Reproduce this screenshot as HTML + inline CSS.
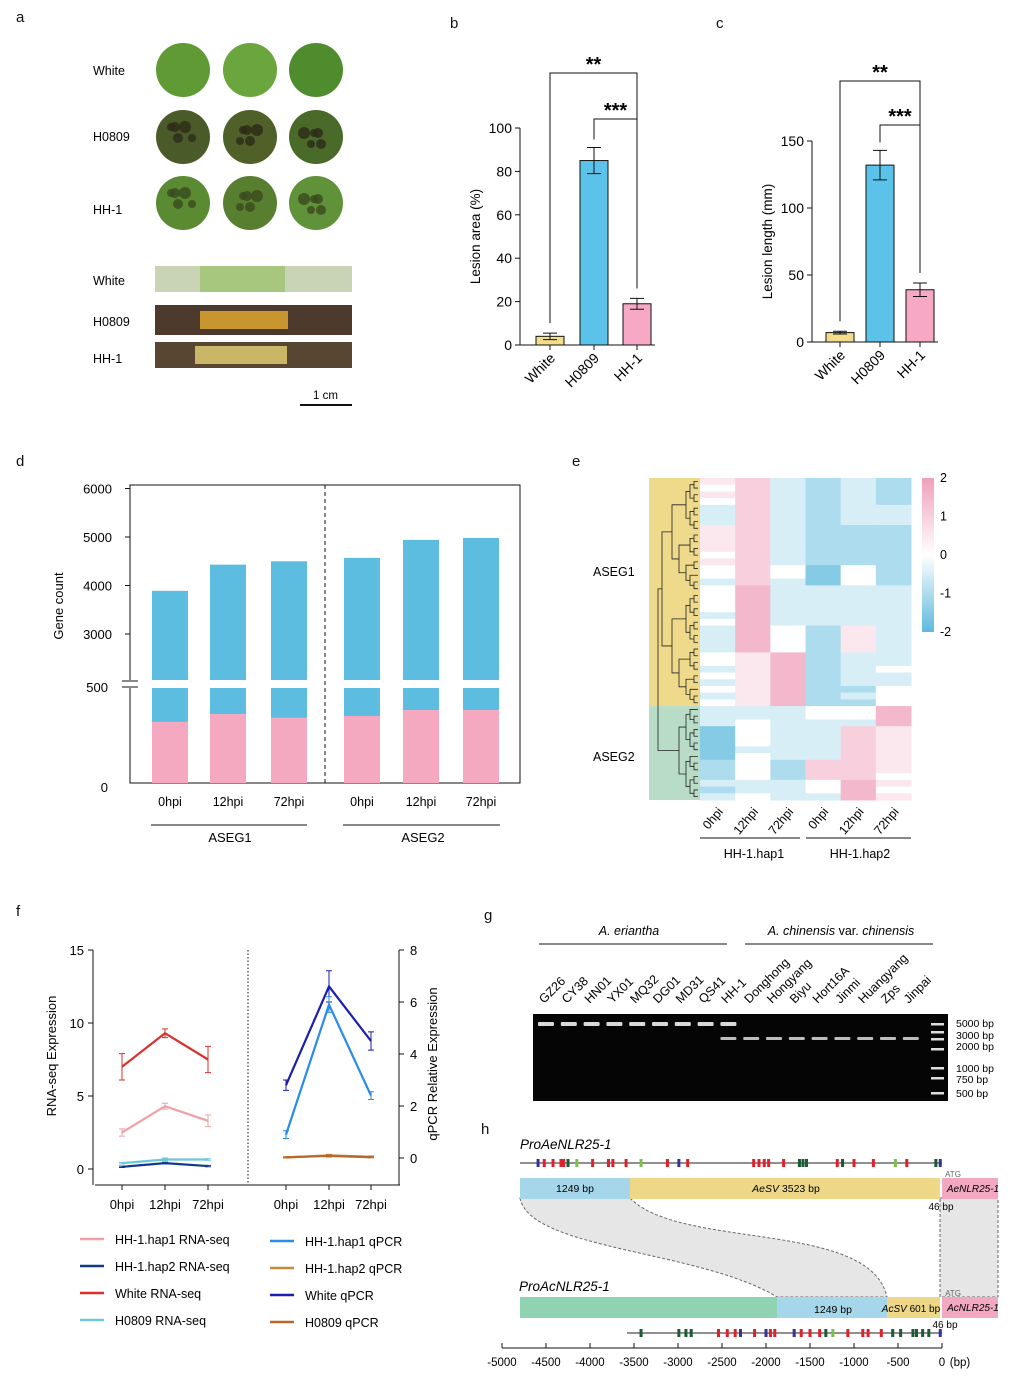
<!DOCTYPE html>
<html><head><meta charset="utf-8"><style>
body{margin:0;background:#fff}
svg{display:block;font-family:"Liberation Sans",Arial,sans-serif}
</style></head><body>
<svg id="fig" width="1020" height="1384" viewBox="0 0 1020 1384" xmlns="http://www.w3.org/2000/svg">
<g font-size="15" fill="#111">
<text x="16" y="22">a</text><text x="450" y="28">b</text><text x="716" y="28">c</text>
<text x="16" y="466">d</text><text x="572" y="466">e</text><text x="16" y="916">f</text>
<text x="484" y="920">g</text><text x="481" y="1134">h</text>
</g>
<g id="pa" font-size="12.5">
<text x="93" y="75">White</text><text x="93" y="141">H0809</text><text x="93" y="214">HH-1</text>
<text x="93" y="285">White</text><text x="93" y="326">H0809</text><text x="93" y="363">HH-1</text>
<rect x="155" y="266" width="197" height="26" fill="#c9d3b5"/>
<rect x="200" y="266" width="85" height="26" fill="#a7c77f"/>
<rect x="155" y="305" width="197" height="30" fill="#4e3a2c"/>
<rect x="200" y="311" width="88" height="18" fill="#c8962e"/>
<rect x="155" y="342" width="197" height="26" fill="#584532"/>
<rect x="195" y="346" width="92" height="18" fill="#c9b767"/>
<line x1="300" y1="405" x2="352" y2="405" stroke="#111" stroke-width="2"/>
<text x="313" y="399" font-size="11.5">1 cm</text>
</g>
<g id="pb"></g>
<g id="pc"></g>
<g id="pd"></g>
<g id="pe"></g>
<g id="pf"></g>
<g id="pg"></g>
<g id="ph"></g>
</svg>
<script>
const NS="http://www.w3.org/2000/svg";
function el(p,t,a,txt){const e=document.createElementNS(NS,t);for(const k in a)e.setAttribute(k,a[k]);if(txt!==undefined)e.textContent=txt;p.appendChild(e);return e;}
const $=id=>document.getElementById(id);

const leafCols=["#5f9a35","#6ba53d","#4f8c2e","#4a5a28","#4f6028","#4a6a2a","#5a8a32","#587f30","#60923a"];
const pa=$('pa');
[70,137,203].forEach((cy,r)=>[183,250,316].forEach((cx,c)=>{
 const e=el(pa,'circle',{cx,cy,r:27,fill:leafCols[r*3+c]});
 
 
 if(r>0){for(let k=0;k<5;k++)el(pa,'circle',{cx:cx-12+((k*7+c*5)%24),cy:cy-10+((k*11+c*3)%22),r:4+(k%3),fill:r==1?"#2c2a18":"#3b4a1e",opacity:.8});}
}));

const barCats=["White","H0809","HH-1"];
const areaVals=[4,85,19], areaErr=[1.5,6,2.5];
const lenVals=[7,132,39], lenErr=[1,11,5];
const barColors=["#f3dd8b","#5bc3ea","#f7a8c4"];
function barPanel(g,ax,y0,yTop,max,ticks,vals,errs,xs,ylab,sig){
 const y=v=>y0-(v/max)*(y0-yTop);
 el(g,'line',{x1:ax,y1:y(max),x2:ax,y2:y0,stroke:"#111"});
 el(g,'line',{x1:ax,y1:y0,x2:xs[2]+18,y2:y0,stroke:"#111"});
 ticks.forEach(t=>{el(g,'line',{x1:ax-5,y1:y(t),x2:ax,y2:y(t),stroke:"#111"});el(g,'text',{x:ax-8,y:y(t)+5,'text-anchor':'end','font-size':14},t);});
 vals.forEach((v,i)=>{
  const b=el(g,'rect',{x:xs[i]-14,y:y(v),width:28,height:y0-y(v),fill:barColors[i],stroke:"#111"});
  
  
  const e1=y(v+errs[i]),e2=y(v-errs[i]);
  el(g,'path',{d:`M${xs[i]} ${e1}V${e2}M${xs[i]-7} ${e1}H${xs[i]+7}M${xs[i]-7} ${e2}H${xs[i]+7}`,stroke:"#111",fill:"none"});
  el(g,'line',{x1:xs[i],y1:y0,x2:xs[i],y2:y0+5,stroke:"#111"});
  el(g,'text',{x:xs[i]+6,y:y0+14,'text-anchor':'end','font-size':14,transform:`rotate(-45 ${xs[i]+6} ${y0+14})`},barCats[i]);
 });
 el(g,'text',{x:ax-40,y:(y0+yTop)/2,'text-anchor':'middle','font-size':13.5,transform:`rotate(-90 ${ax-40} ${(y0+yTop)/2})`},ylab);
 const [a,b2]=sig;
 el(g,'path',{d:`M${xs[0]} ${y(vals[0]+errs[0])-10}V${a}H${xs[2]}V${y(vals[2]+errs[2])-10}`,stroke:"#111",fill:"none"});
 el(g,'path',{d:`M${xs[1]} ${y(vals[1]+errs[1])-8}V${b2}H${xs[2]}V${y(vals[2]+errs[2])-10}`,stroke:"#111",fill:"none"});
 el(g,'text',{x:(xs[0]+xs[2])/2,y:a-2,'text-anchor':'middle','font-size':20,'font-weight':'bold'},"**");
 el(g,'text',{x:(xs[1]+xs[2])/2,y:b2-2,'text-anchor':'middle','font-size':20,'font-weight':'bold'},"***");
}
barPanel($('pb'),520,345,128,100,[0,20,40,60,80,100],areaVals,areaErr,[550,594,637],"Lesion area (%)",[73,119]);
barPanel($('pc'),812,342,141,150,[0,50,100,150],lenVals,lenErr,[840,880,920],"Lesion length (mm)",[81,125]);

const dCats=["0hpi","12hpi","72hpi","0hpi","12hpi","72hpi"];
const dPink=[318,359,339,349,380,380];
const dTotal=[3890,4430,4500,4570,4940,4980];
const dUpperTicks=[3000,4000,5000,6000];
const pd=$('pd');
const yLow=v=>783-v*0.192, yUp=v=>634-(v-3000)*0.0485;
const dx=[170,228,289,362,421,481];
el(pd,'rect',{x:130,y:485,width:390,height:298,fill:"none",stroke:"#111"});
el(pd,'line',{x1:325,y1:485,x2:325,y2:783,stroke:"#111","stroke-dasharray":"4 3"});
dCats.forEach((c,i)=>{
 const x=dx[i]-18;
 const b1=el(pd,'rect',{x,y:yUp(dTotal[i]),width:36,height:680-yUp(dTotal[i]),fill:"#5dbde0"});
 
 
 el(pd,'rect',{x,y:688,width:36,height:yLow(dPink[i])-688,fill:"#5dbde0"});
 const b2=el(pd,'rect',{x,y:yLow(dPink[i]),width:36,height:783-yLow(dPink[i]),fill:"#f4a9c0"});
 
 
 el(pd,'text',{x:dx[i],y:806,'text-anchor':'middle','font-size':12.5},c);
});
el(pd,'rect',{x:118,y:680,width:20,height:8,fill:"#fff"});
el(pd,'path',{d:"M122 681H138M122 687H138",stroke:"#111"});
dUpperTicks.forEach(t=>{el(pd,'line',{x1:125,y1:yUp(t),x2:130,y2:yUp(t),stroke:"#111"});el(pd,'text',{x:112,y:yUp(t)+5,'text-anchor':'end','font-size':13},t);});
[[500,687],[0,787]].forEach(([t,y])=>el(pd,'text',{x:108,y:y+5,'text-anchor':'end','font-size':13},t));
el(pd,'text',{x:63,y:606,'text-anchor':'middle','font-size':13,transform:"rotate(-90 63 606)"},"Gene count");
el(pd,'line',{x1:151,y1:825,x2:307,y2:825,stroke:"#111"});el(pd,'line',{x1:343,y1:825,x2:500,y2:825,stroke:"#111"});
el(pd,'text',{x:230,y:842,'text-anchor':'middle','font-size':13},"ASEG1");el(pd,'text',{x:423,y:842,'text-anchor':'middle','font-size':13},"ASEG2");

const heatRows=["563232","463232","563232","463232","363233","363233","363233","563222","563222","563222","563222","463222","563222","464142","464142","363142","473333","473333","473333","473333","373333","473333","374253","374253","374253","374253","457233","457233","357234","457233","357233","457224","357234","457224",
"333447","333447","343337","143365","143365","143365","133365","143365","242665","242665","242664","333475","233474","343375"];
const heatCols=["0hpi","12hpi","72hpi","0hpi","12hpi","72hpi"];
const colorbarTicks=[2,1,0,-1,-2];
const pe=$('pe');
function hcol(v){const t=(v-4)/4;const neg=[93,185,222],pos=[240,160,187];const c=t<0?neg:pos;const a=Math.abs(t);return `rgb(${c.map(k=>Math.round(255+(k-255)*a)).join(',')})`;}
const hy0=478,hy1=800,rh=(hy1-hy0)/heatRows.length,cw=(911-700)/6;
el(pe,'rect',{x:649,y:hy0,width:51,height:34*rh,fill:"#efd98a"});
el(pe,'rect',{x:649,y:hy0+34*rh,width:51,height:14*rh,fill:"#b9dcc6"});
heatRows.forEach((r,i)=>r.split('').forEach((d,j)=>{
 const c=el(pe,'rect',{x:700+j*cw,y:hy0+i*rh,width:cw+.5,height:rh+.5,fill:hcol(+d)});
 
 
}));
function dend(a,b){if(b-a<=1){return {x:698,y:hy0+(a+.5)*rh};}
 const m=Math.floor((a+b)/2);const L=dend(a,m),R=dend(m,b);const x=Math.min(L.x,R.x)-(b-a>20?10:b-a>8?7:4);
 el(pe,'path',{d:`M${L.x} ${L.y}H${x}V${R.y}H${R.x}`,stroke:"#222",fill:"none","stroke-width":.8});return {x,y:(L.y+R.y)/2};}
const d1=dend(0,34),d2=dend(34,48);
el(pe,'path',{d:`M${d1.x} ${d1.y}H${Math.min(d1.x,d2.x)-4}V${d2.y}H${d2.x}`,stroke:"#222",fill:"none","stroke-width":.8});
el(pe,'text',{x:593,y:576,'font-size':12.5},"ASEG1");el(pe,'text',{x:593,y:761,'font-size':12.5},"ASEG2");
const gr=el(pe,'defs',{});const lg=el(gr,'linearGradient',{id:'cb',x1:0,y1:0,x2:0,y2:1});
el(lg,'stop',{offset:0,'stop-color':hcol(8)});el(lg,'stop',{offset:.5,'stop-color':'#fff'});el(lg,'stop',{offset:1,'stop-color':hcol(0)});
el(pe,'rect',{x:922,y:478,width:12,height:154,fill:"url(#cb)"});
colorbarTicks.forEach((t,i)=>el(pe,'text',{x:940,y:482+i*38.5,'font-size':12.5},t));
heatCols.forEach((c,i)=>{const x=700+(i+.5)*cw+6,y=812;el(pe,'text',{x,y,'text-anchor':'end','font-size':12.5,transform:`rotate(-50 ${x} ${y})`},c);});
el(pe,'line',{x1:700,y1:838,x2:800,y2:838,stroke:"#111"});el(pe,'line',{x1:806,y1:838,x2:911,y2:838,stroke:"#111"});
el(pe,'text',{x:754,y:858,'text-anchor':'middle','font-size':12.5},"HH-1.hap1");el(pe,'text',{x:860,y:858,'text-anchor':'middle','font-size':12.5},"HH-1.hap2");

const fTimes=["0hpi","12hpi","72hpi"];
const rnaWhite=[7,9.3,7.5], rnaWhiteErr=[0.9,0.3,0.9];
const rnaHap1=[2.5,4.3,3.3], rnaHap1Err=[0.25,0.2,0.4];
const rnaH0809=[0.4,0.65,0.65], rnaH0809Err=[0.05,0.1,0.05];
const rnaHap2=[0.15,0.4,0.2], rnaHap2Err=[0.05,0.05,0.05];
const qWhite=[2.8,6.6,4.5], qWhiteErr=[0.2,0.6,0.35];
const qHap1=[0.9,5.9,2.4], qHap1Err=[0.15,0.3,0.15];
const qHap2=[0.02,0.1,0.05], qHap2Err=[0.02,0.04,0.03];
const qH0809=[0.03,0.08,0.03], qH0809Err=[0.02,0.04,0.02];
const pf=$('pf');
const yR=v=>1169-v*14.6, yQ=v=>1158-v*26;
const xL=[122,165,208], xRt=[286,329,371];
el(pf,'line',{x1:93,y1:950,x2:93,y2:1185,stroke:"#111"});
el(pf,'line',{x1:399,y1:950,x2:399,y2:1185,stroke:"#111"});
el(pf,'line',{x1:95,y1:1185,x2:400,y2:1185,stroke:"#111"});
el(pf,'line',{x1:248,y1:950,x2:248,y2:1185,stroke:"#111","stroke-dasharray":"1.5 2"});
[0,5,10,15].forEach(t=>{el(pf,'line',{x1:88,y1:yR(t),x2:93,y2:yR(t),stroke:"#111"});el(pf,'text',{x:84,y:yR(t)+5,'text-anchor':'end','font-size':13},t);});
[0,2,4,6,8].forEach(t=>{el(pf,'line',{x1:399,y1:yQ(t),x2:404,y2:yQ(t),stroke:"#111"});el(pf,'text',{x:410,y:yQ(t)+5,'font-size':13},t);});
xL.concat(xRt).forEach((x,i)=>{el(pf,'line',{x1:x,y1:1185,x2:x,y2:1190,stroke:"#111"});el(pf,'text',{x,y:1209,'text-anchor':'middle','font-size':13},fTimes[i%3]);});
el(pf,'text',{x:56,y:1056,'text-anchor':'middle','font-size':13,transform:"rotate(-90 56 1056)"},"RNA-seq Expression");
el(pf,'text',{x:437,y:1064,'text-anchor':'middle','font-size':13,transform:"rotate(-90 437 1064)"},"qPCR Relative Expression");
function series(xs,vals,errs,yf,col,name){
 const p=el(pf,'polyline',{points:vals.map((v,i)=>xs[i]+','+yf(v)).join(' '),fill:'none',stroke:col,'stroke-width':2.2});
 
 
 vals.forEach((v,i)=>{const a=yf(v+errs[i]),b=yf(v-errs[i]);el(pf,'path',{d:`M${xs[i]} ${a}V${b}M${xs[i]-3} ${a}H${xs[i]+3}M${xs[i]-3} ${b}H${xs[i]+3}`,stroke:col,fill:'none'});});
}
series(xL,rnaWhite,rnaWhiteErr,yR,"#d9302c","line-white-rnaseq");
series(xL,rnaHap1,rnaHap1Err,yR,"#f0a0a6","line-hap1-rnaseq");
series(xL,rnaH0809,rnaH0809Err,yR,"#6cc8d8","line-h0809-rnaseq");
series(xL,rnaHap2,rnaHap2Err,yR,"#123a8a","line-hap2-rnaseq");
series(xRt,qWhite,qWhiteErr,yQ,"#1a1fb0","line-white-qpcr");
series(xRt,qHap1,qHap1Err,yQ,"#2a8be8","line-hap1-qpcr");
series(xRt,qHap2,qHap2Err,yQ,"#c8893a","line-hap2-qpcr");
series(xRt,qH0809,qH0809Err,yQ,"#b8692a","line-h0809-qpcr");
const legendItems=[["HH-1.hap1 RNA-seq","#f0a0a6",80,1243],["HH-1.hap2 RNA-seq","#123a8a",80,1270],["White RNA-seq","#d9302c",80,1297],["H0809 RNA-seq","#6cc8d8",80,1324],
["HH-1.hap1 qPCR","#2a8be8",270,1245],["HH-1.hap2 qPCR","#c8893a",270,1272],["White qPCR","#1a1fb0",270,1299],["H0809 qPCR","#b8692a",270,1326]];
legendItems.forEach(([t,c,x,y])=>{const g=el(pf,'g',{});
 el(g,'line',{x1:x,y1:y-4,x2:x+24,y2:y-4,stroke:c,'stroke-width':2.5});el(g,'text',{x:x+35,y:y+1,'font-size':12.5},t);});

const gLanes=["GZ26","CY38","HN01","YX01","MQ32","DG01","MD31","QS41","HH-1","Donghong","Hongyang","Biyu","Hort16A","Jinmi","Huangyang","Zps","Jinpai"];
const gUpper=[1,1,1,1,1,1,1,1,1,0,0,0,0,0,0,0,0];
const gLower=[0,0,0,0,0,0,0,0,1,1,1,1,1,1,1,1,1];
const pg=$('pg');
el(pg,'rect',{x:533,y:1014,width:415,height:87,fill:"#050505"});
el(pg,'text',{x:629,y:935,'text-anchor':'middle','font-size':12.5,'font-style':'italic'},"A. eriantha");
el(pg,'text',{x:841,y:935,'text-anchor':'middle','font-size':12.5},"").innerHTML='<tspan font-style="italic">A. chinensis</tspan> var. <tspan font-style="italic">chinensis</tspan>';
el(pg,'line',{x1:539,y1:944,x2:727,y2:944,stroke:"#111"});el(pg,'line',{x1:745,y1:944,x2:933,y2:944,stroke:"#111"});
gLanes.forEach((n,i)=>{const x=546+i*22.8;
 el(pg,'text',{x:x-2,y:1004,'font-size':12.5,transform:`rotate(-45 ${x-2} 1004)`},n);
 if(gUpper[i]){const b=el(pg,'rect',{x:x-8,y:1022,width:16,height:4,fill:"#d8d8d8",rx:1});}
 if(gLower[i]){const b=el(pg,'rect',{x:x-8,y:1037,width:16,height:3,fill:"#bdbdbd",rx:1});}
});
[1024,1032,1039,1049,1068,1078,1093].forEach(y=>el(pg,'rect',{x:931,y:y-1,width:13,height:2.5,fill:"#ddd"}));
[["5000 bp",1027],["3000 bp",1039],["2000 bp",1050],["1000 bp",1072],["750 bp",1083],["500 bp",1097]].forEach(([t,y])=>el(pg,'text',{x:956,y,'font-size':10.5},t));

const ph=$('ph');
const hAxisTicks=[-5000,-4500,-4000,-3500,-3000,-2500,-2000,-1500,-1000,-500,0];
const xb=v=>942+v*0.088;
el(ph,'line',{x1:xb(-5000),y1:1348,x2:942,y2:1348,stroke:"#111"});
hAxisTicks.forEach(t=>{el(ph,'line',{x1:xb(t),y1:1348,x2:xb(t),y2:1343,stroke:"#111"});el(ph,'text',{x:xb(t),y:1366,'text-anchor':'middle','font-size':11.5},t);});
el(ph,'text',{x:960,y:1366,'text-anchor':'middle','font-size':11.5},"(bp)");
el(ph,'path',{d:"M520 1198 L630 1198 C 680 1250, 870 1220, 887 1297 L777 1297 C 700 1250, 530 1250, 520 1198Z",fill:"#e6e6e6",stroke:"#666","stroke-dasharray":"3 2"});
el(ph,'rect',{x:940,y:1198,width:58,height:99,fill:"#e6e6e6",stroke:"#666","stroke-dasharray":"3 2"});
[[520,110,"#a6d6ea"],[630,310,"#eed887"],[942,56,"#f2a8c0"]].forEach(([x,w,c])=>el(ph,'rect',{x,y:1178,width:w,height:21,fill:c}));
[[520,257,"#8fd3b3"],[777,110,"#a6d6ea"],[887,53,"#eed887"],[942,56,"#f2a8c0"]].forEach(([x,w,c])=>el(ph,'rect',{x,y:1297,width:w,height:21,fill:c}));
el(ph,'text',{x:520,y:1149,'font-size':13.5,'font-style':'italic'},"ProAeNLR25-1");
el(ph,'text',{x:519,y:1291,'font-size':13.5,'font-style':'italic'},"ProAcNLR25-1");
el(ph,'text',{x:575,y:1192,'text-anchor':'middle','font-size':10.5},"1249 bp");
el(ph,'text',{x:786,y:1192,'text-anchor':'middle','font-size':10.5},"").innerHTML='<tspan font-style="italic">AeSV</tspan> 3523 bp';
el(ph,'text',{x:973,y:1192,'text-anchor':'middle','font-size':10,'font-style':'italic'},"AeNLR25-1");
el(ph,'text',{x:833,y:1313,'text-anchor':'middle','font-size':10.5},"1249 bp");
el(ph,'text',{x:911,y:1312,'text-anchor':'middle','font-size':10},"").innerHTML='<tspan font-style="italic">AcSV</tspan> 601 bp';
el(ph,'text',{x:973,y:1311,'text-anchor':'middle','font-size':10,'font-style':'italic'},"AcNLR25-1");
el(ph,'text',{x:941,y:1210,'text-anchor':'middle','font-size':10},"46 bp");el(ph,'text',{x:945,y:1328,'text-anchor':'middle','font-size':10},"46 bp");
el(ph,'text',{x:953,y:1177,'text-anchor':'middle','font-size':8,fill:'#666'},"ATG");el(ph,'text',{x:953,y:1296,'text-anchor':'middle','font-size':8,fill:'#666'},"ATG");
el(ph,'line',{x1:520,y1:1163,x2:942,y2:1163,stroke:"#222"});el(ph,'line',{x1:627,y1:1333,x2:942,y2:1333,stroke:"#222"});
const topMarks=[[-4590,'b'],[-4520,'r'],[-4420,'r'],[-4330,'r'],[-4300,'r'],[-4250,'g'],[-4150,'l'],[-3970,'r'],[-3790,'r'],[-3740,'r'],[-3590,'r'],[-3420,'l'],[-3120,'r'],[-2990,'b'],[-2890,'r'],[-2140,'r'],[-2080,'r'],[-2020,'r'],[-1970,'r'],[-1800,'r'],[-1620,'g'],[-1580,'g'],[-1540,'g'],[-1190,'r'],[-1130,'g'],[-1000,'r'],[-780,'r'],[-530,'l'],[-400,'r'],[-70,'g'],[-20,'b']];
const botMarks=[[-3420,'g'],[-2990,'g'],[-2910,'g'],[-2850,'g'],[-2540,'r'],[-2440,'r'],[-2350,'r'],[-2290,'b'],[-2130,'r'],[-2000,'b'],[-1950,'r'],[-1900,'r'],[-1680,'b'],[-1600,'r'],[-1500,'r'],[-1390,'r'],[-1320,'g'],[-1240,'l'],[-1070,'r'],[-900,'r'],[-840,'r'],[-690,'r'],[-560,'g'],[-470,'g'],[-330,'g'],[-290,'g'],[-220,'g'],[-150,'g'],[-20,'b']];
const mc={r:"#e0202a",g:"#1c5a34",b:"#33339a",l:"#7cc04a"};
topMarks.forEach(([p,c])=>el(ph,'rect',{x:xb(p)-1.5,y:1159,width:3,height:8,fill:mc[c]}));
botMarks.forEach(([p,c])=>el(ph,'rect',{x:xb(p)-1.5,y:1329,width:3,height:8,fill:mc[c]}));
</script>
</body></html>
